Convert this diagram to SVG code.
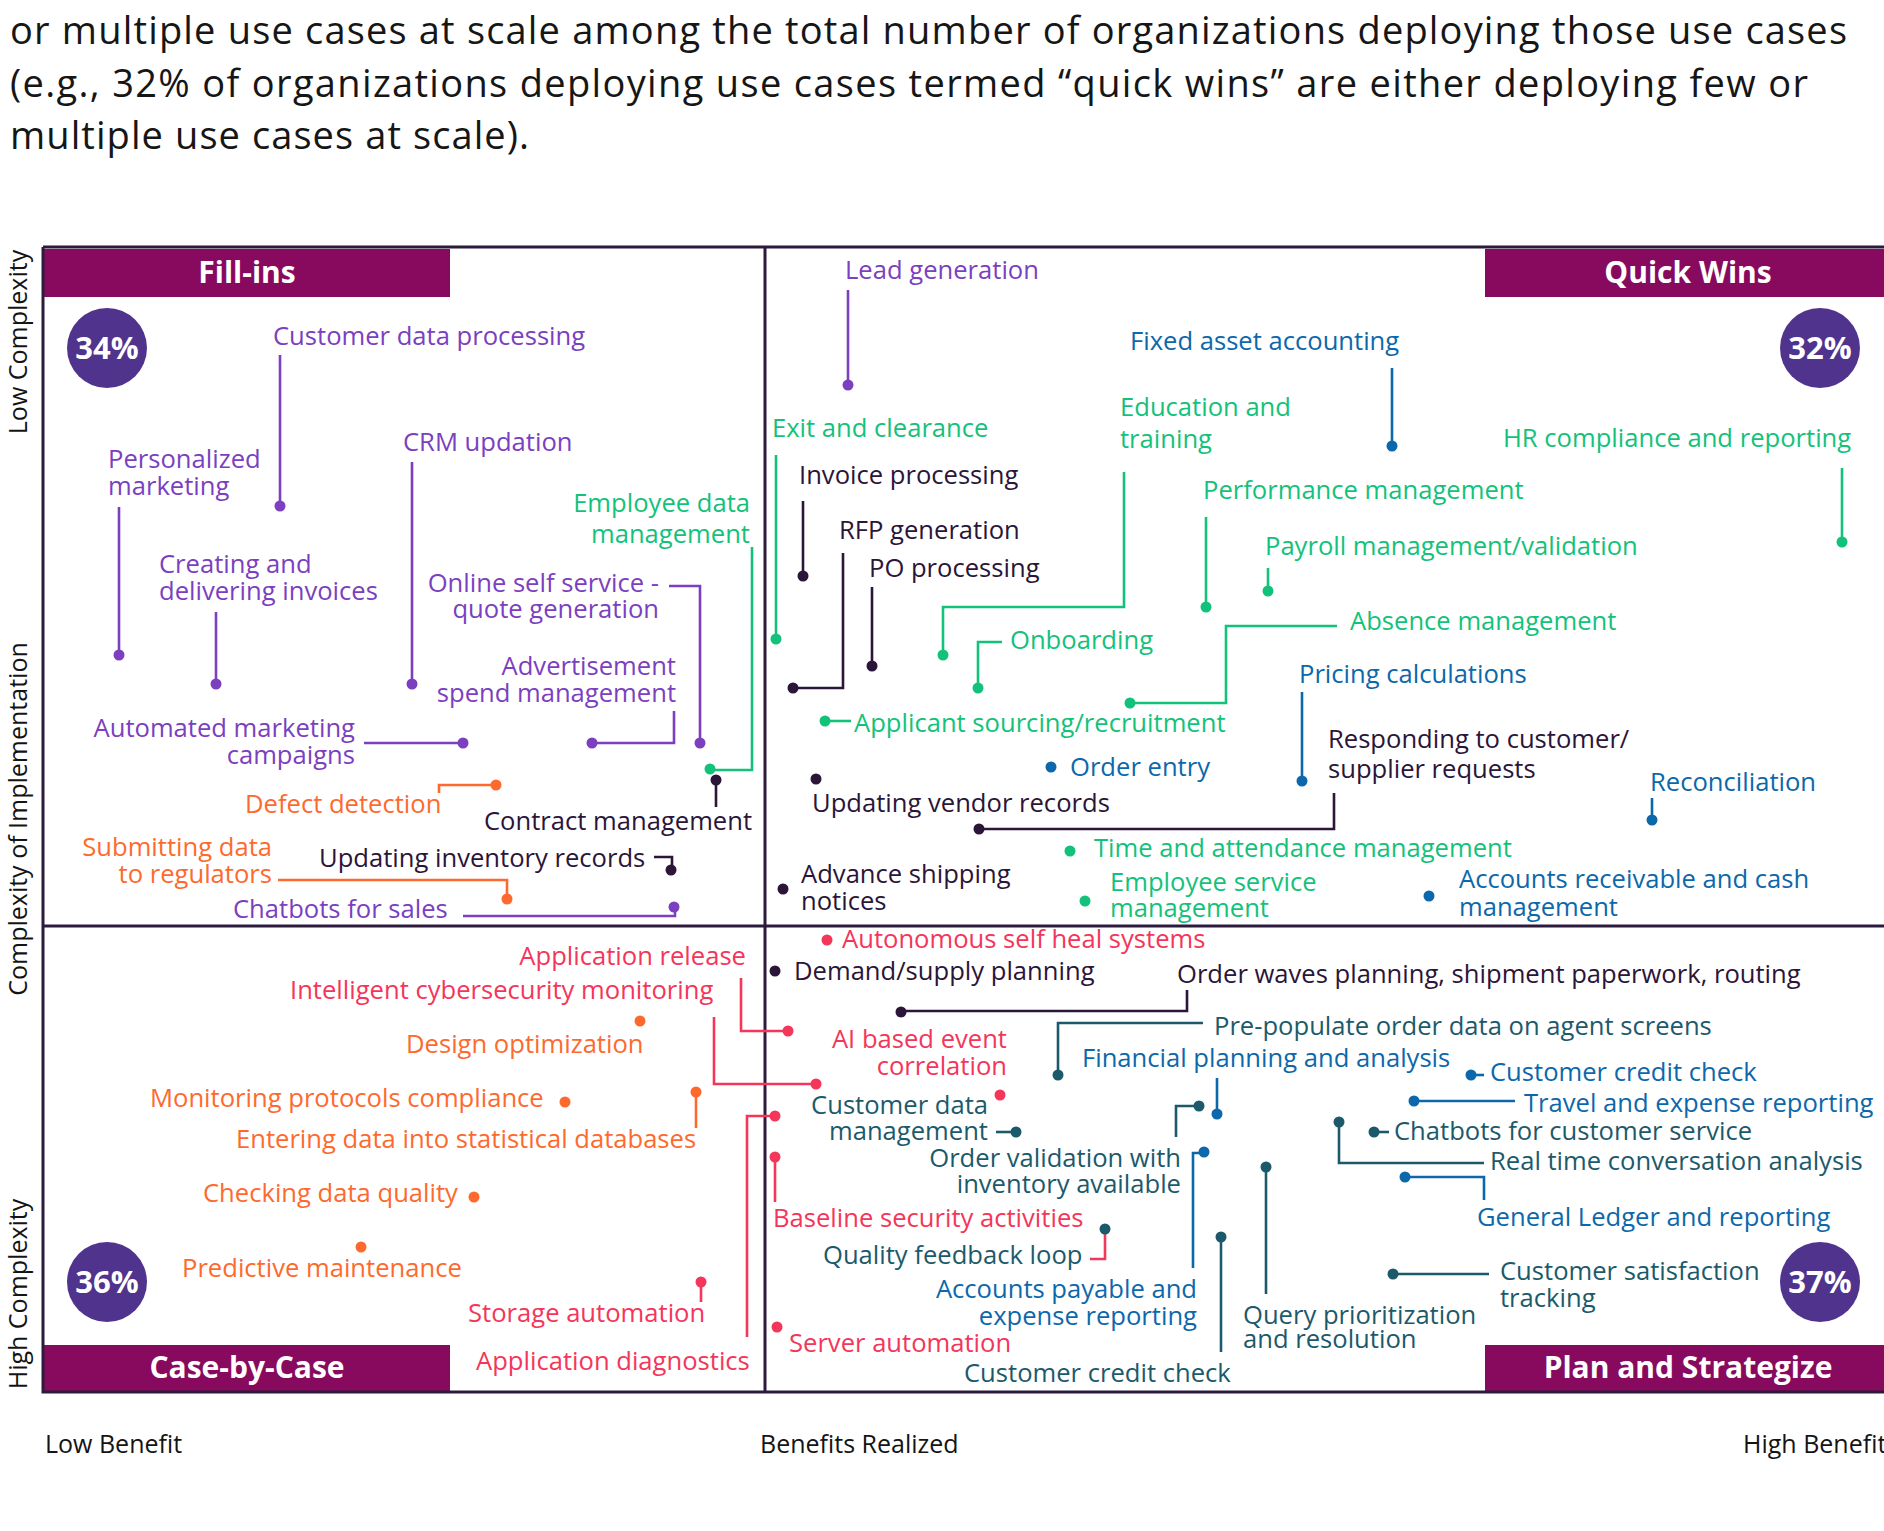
<svg xmlns="http://www.w3.org/2000/svg" width="1884" height="1531" viewBox="0 0 1884 1531">
<style>
text{font-family:"Open Sans","Noto Sans","Liberation Sans",sans-serif;font-size:25.6px}
.title{font-size:38px;fill:#161616}
.ax{fill:#141414;font-size:25px}
.ban{fill:#880a5f}
.bt{fill:#fff;font-weight:bold;font-size:30px;text-anchor:middle}
.pc{fill:#50338d}
.pt{fill:#fff;font-weight:bold;font-size:31px;text-anchor:middle}
.e{text-anchor:end}
.pu{fill:#7b3fc0}.gr{fill:#13c27a}.dk{fill:#2b1538}.bl{fill:#0c68ab}.or{fill:#fe6a2e}.rd{fill:#f4365a}.tl{fill:#1c5a6b}
#connectors path{fill:none;stroke-width:2.6}
.spu{stroke:#7b3fc0}.sgr{stroke:#13c27a}.sdk{stroke:#2b1538}.sbl{stroke:#0c68ab}.sor{stroke:#fe6a2e}.srd{stroke:#f4365a}.stl{stroke:#1c5a6b}
.frame{stroke:#2d1b3d;stroke-width:3;fill:none}
</style>

<g id="title">
<text class="title" x="10" y="44" textLength="1837" lengthAdjust="spacing">or multiple use cases at scale among the total number of organizations deploying those use cases</text>
<text class="title" x="10" y="97" textLength="1798" lengthAdjust="spacing">(e.g., 32% of organizations deploying use cases termed “quick wins” are either deploying few or</text>
<text class="title" x="10" y="149" textLength="519" lengthAdjust="spacing">multiple use cases at scale).</text>
</g>

<g id="frame">
<rect class="ban" x="44" y="249" width="406" height="48"/>
<rect class="ban" x="1485" y="249" width="399" height="48"/>
<rect class="ban" x="44" y="1345" width="406" height="47"/>
<rect class="ban" x="1485" y="1345" width="399" height="47"/>
<path class="frame" d="M43,247 H1884 M43,247 V1392 H1884 M43,926 H1884 M765,247 V1392"/>
<text class="bt" x="247" y="283">Fill-ins</text>
<text class="bt" x="1688" y="283">Quick Wins</text>
<text class="bt" x="247" y="1378">Case-by-Case</text>
<text class="bt" x="1688" y="1378">Plan and Strategize</text>
<circle class="pc" cx="107" cy="348" r="40"/><text class="pt" x="107" y="359">34%</text>
<circle class="pc" cx="1820" cy="348" r="40"/><text class="pt" x="1820" y="359">32%</text>
<circle class="pc" cx="107" cy="1282" r="40"/><text class="pt" x="107" y="1293">36%</text>
<circle class="pc" cx="1820" cy="1282" r="40"/><text class="pt" x="1820" y="1293">37%</text>
<text class="ax" text-anchor="middle" transform="translate(27,342) rotate(-90)">Low Complexity</text>
<text class="ax" text-anchor="middle" transform="translate(27,819) rotate(-90)">Complexity of Implementation</text>
<text class="ax" text-anchor="middle" transform="translate(27,1294) rotate(-90)">High Complexity</text>
<text class="ax" x="45" y="1453">Low Benefit</text>
<text class="ax" x="760" y="1453">Benefits Realized</text>
<text class="ax" x="1743" y="1453">High Benefit</text>
</g>

<g id="connectors">
<path class="spu" d="M280,355 V506"/>
<path class="spu" d="M119,507 V655"/>
<path class="spu" d="M412,462 V684"/>
<path class="spu" d="M216,612 V684"/>
<path class="spu" d="M669,586 H700 V743"/>
<path class="spu" d="M674,711 V743 H592"/>
<path class="spu" d="M364,743 H463"/>
<path class="spu" d="M463,916 H675 V907"/>
<path class="spu" d="M848,290 V385"/>
<path class="sgr" d="M752,547 V770 H710"/>
<path class="sgr" d="M776,455 V639"/>
<path class="sgr" d="M1124,472 V607 H943 V655"/>
<path class="sgr" d="M1206,517 V607"/>
<path class="sgr" d="M1268,568 V591"/>
<path class="sgr" d="M1337,626 H1226 V703 H1130"/>
<path class="sgr" d="M1002,642 H978 V688"/>
<path class="sgr" d="M1842,468 V542"/>
<path class="sgr" d="M825,721 H851"/>
<path class="sdk" d="M803,501 V576"/>
<path class="sdk" d="M843,553 V688 H793"/>
<path class="sdk" d="M872,587 V666"/>
<path class="sdk" d="M716,807 V780"/>
<path class="sdk" d="M654,857 H672 V870"/>
<path class="sdk" d="M1334,793 V829 H979"/>
<path class="sdk" d="M1187,990 V1011 H901"/>
<path class="sbl" d="M1392,368 V446"/>
<path class="sbl" d="M1302,692 V781"/>
<path class="sbl" d="M1652,798 V820"/>
<path class="sbl" d="M1217,1078 V1114"/>
<path class="sbl" d="M1471,1075 H1484"/>
<path class="sbl" d="M1414,1101 H1515"/>
<path class="sbl" d="M1405,1177 H1484 V1200"/>
<path class="sbl" d="M1193,1268 V1153 H1204"/>
<path class="sor" d="M439,793 V785 H496"/>
<path class="sor" d="M278,880 H507 V899"/>
<path class="sor" d="M696,1128 V1092"/>
<path class="srd" d="M741,978 V1031 H788"/>
<path class="srd" d="M714,1017 V1084 H816"/>
<path class="srd" d="M775,1202 V1157"/>
<path class="srd" d="M701,1302 V1282"/>
<path class="srd" d="M747,1337 V1116 H775"/>
<path class="srd" d="M1090,1259 H1105 V1230"/>
<path class="stl" d="M1203,1023 H1058 V1075"/>
<path class="stl" d="M996,1132 H1016"/>
<path class="stl" d="M1176,1137 V1106 H1199"/>
<path class="stl" d="M1221,1352 V1237"/>
<path class="stl" d="M1266,1294 V1167"/>
<path class="stl" d="M1374,1132 H1389"/>
<path class="stl" d="M1484,1163 H1339 V1122"/>
<path class="stl" d="M1393,1274 H1489"/>
</g>

<g id="n-customer-data-processing" class="pu"><text x="273" y="345">Customer data processing</text><circle cx="280" cy="506" r="5.5"/></g>
<g id="n-personalized-marketing" class="pu"><text x="108" y="468">Personalized</text><text x="108" y="495">marketing</text><circle cx="119" cy="655" r="5.5"/></g>
<g id="n-crm-updation" class="pu"><text x="403" y="451">CRM updation</text><circle cx="412" cy="684" r="5.5"/></g>
<g id="n-creating-invoices" class="pu"><text x="159" y="573">Creating and</text><text x="159" y="600">delivering invoices</text><circle cx="216" cy="684" r="5.5"/></g>
<g id="n-online-self-service" class="pu"><text class="e" x="659" y="592">Online self service -</text><text class="e" x="659" y="618">quote generation</text><circle cx="700" cy="743" r="5.5"/></g>
<g id="n-advertisement" class="pu"><text class="e" x="676" y="675">Advertisement</text><text class="e" x="676" y="702">spend management</text><circle cx="592" cy="743" r="5.5"/></g>
<g id="n-automated-marketing" class="pu"><text class="e" x="355" y="737">Automated marketing</text><text class="e" x="355" y="764">campaigns</text><circle cx="463" cy="743" r="5.5"/></g>
<g id="n-chatbots-sales" class="pu"><text x="233" y="918">Chatbots for sales</text><circle cx="674" cy="907" r="5.5"/></g>
<g id="n-lead-generation" class="pu"><text x="845" y="279">Lead generation</text><circle cx="848" cy="385" r="5.5"/></g>

<g id="n-employee-data" class="gr"><text class="e" x="750" y="512">Employee data</text><text class="e" x="750" y="543">management</text><circle cx="710" cy="769" r="5.5"/></g>
<g id="n-exit-clearance" class="gr"><text x="772" y="437">Exit and clearance</text><circle cx="776" cy="639" r="5.5"/></g>
<g id="n-education" class="gr"><text x="1120" y="416">Education and</text><text x="1120" y="448">training</text><circle cx="943" cy="655" r="5.5"/></g>
<g id="n-performance" class="gr"><text x="1203" y="499">Performance management</text><circle cx="1206" cy="607" r="5.5"/></g>
<g id="n-payroll" class="gr"><text x="1265" y="555">Payroll management/validation</text><circle cx="1268" cy="591" r="5.5"/></g>
<g id="n-absence" class="gr"><text x="1350" y="630">Absence management</text><circle cx="1130" cy="703" r="5.5"/></g>
<g id="n-onboarding" class="gr"><text x="1010" y="649">Onboarding</text><circle cx="978" cy="688" r="5.5"/></g>
<g id="n-hr-compliance" class="gr"><text x="1503" y="447">HR compliance and reporting</text><circle cx="1842" cy="542" r="5.5"/></g>
<g id="n-applicant" class="gr"><text x="854" y="732">Applicant sourcing/recruitment</text><circle cx="825" cy="721" r="5.5"/></g>
<g id="n-time-attendance" class="gr"><text x="1094" y="857">Time and attendance management</text><circle cx="1070" cy="851" r="5.5"/></g>
<g id="n-employee-service" class="gr"><text x="1110" y="891">Employee service</text><text x="1110" y="917">management</text><circle cx="1085" cy="901" r="5.5"/></g>

<g id="n-invoice-processing" class="dk"><text x="799" y="484">Invoice processing</text><circle cx="803" cy="576" r="5.5"/></g>
<g id="n-rfp" class="dk"><text x="839" y="539">RFP generation</text><circle cx="793" cy="688" r="5.5"/></g>
<g id="n-po" class="dk"><text x="869" y="577">PO processing</text><circle cx="872" cy="666" r="5.5"/></g>
<g id="n-contract" class="dk"><text x="484" y="830">Contract management</text><circle cx="716" cy="780" r="5.5"/></g>
<g id="n-updating-inventory" class="dk"><text x="319" y="867">Updating inventory records</text><circle cx="671" cy="870" r="5.5"/></g>
<g id="n-updating-vendor" class="dk"><text x="812" y="812">Updating vendor records</text><circle cx="816" cy="779" r="5.5"/></g>
<g id="n-responding" class="dk"><text x="1328" y="748">Responding to customer/</text><text x="1328" y="778">supplier requests</text><circle cx="979" cy="829" r="5.5"/></g>
<g id="n-advance-shipping" class="dk"><text x="801" y="883">Advance shipping</text><text x="801" y="910">notices</text><circle cx="783" cy="889" r="5.5"/></g>
<g id="n-demand-supply" class="dk"><text x="794" y="980">Demand/supply planning</text><circle cx="775" cy="971" r="5.5"/></g>
<g id="n-order-waves" class="dk"><text x="1177" y="983">Order waves planning, shipment paperwork, routing</text><circle cx="901" cy="1012" r="5.5"/></g>

<g id="n-fixed-asset" class="bl"><text x="1130" y="350">Fixed asset accounting</text><circle cx="1392" cy="446" r="5.5"/></g>
<g id="n-pricing" class="bl"><text x="1299" y="683">Pricing calculations</text><circle cx="1302" cy="781" r="5.5"/></g>
<g id="n-order-entry" class="bl"><text x="1070" y="776">Order entry</text><circle cx="1051" cy="767" r="5.5"/></g>
<g id="n-reconciliation" class="bl"><text x="1650" y="791">Reconciliation</text><circle cx="1652" cy="820" r="5.5"/></g>
<g id="n-accounts-receivable" class="bl"><text x="1459" y="888">Accounts receivable and cash</text><text x="1459" y="916">management</text><circle cx="1429" cy="896" r="5.5"/></g>
<g id="n-fpa" class="bl"><text x="1082" y="1067">Financial planning and analysis</text><circle cx="1217" cy="1114" r="5.5"/></g>
<g id="n-credit-check-right" class="bl"><text x="1490" y="1081">Customer credit check</text><circle cx="1471" cy="1075" r="5.5"/></g>
<g id="n-travel-expense" class="bl"><text x="1524" y="1112">Travel and expense reporting</text><circle cx="1414" cy="1101" r="5.5"/></g>
<g id="n-general-ledger" class="bl"><text x="1477" y="1226">General Ledger and reporting</text><circle cx="1405" cy="1177" r="5.5"/></g>
<g id="n-accounts-payable" class="bl"><text class="e" x="1197" y="1298">Accounts payable and</text><text class="e" x="1197" y="1325">expense reporting</text><circle cx="1204" cy="1152" r="5.5"/></g>

<g id="n-defect" class="or"><text x="245" y="813">Defect detection</text><circle cx="496" cy="785" r="5.5"/></g>
<g id="n-submitting" class="or"><text class="e" x="272" y="856">Submitting data</text><text class="e" x="272" y="883">to regulators</text><circle cx="507" cy="899" r="5.5"/></g>
<g id="n-design" class="or"><text x="406" y="1053">Design optimization</text><circle cx="640" cy="1021" r="5.5"/></g>
<g id="n-monitoring" class="or"><text x="150" y="1107">Monitoring protocols compliance</text><circle cx="565" cy="1102" r="5.5"/></g>
<g id="n-entering" class="or"><text x="236" y="1148">Entering data into statistical databases</text><circle cx="696" cy="1092" r="5.5"/></g>
<g id="n-checking" class="or"><text x="203" y="1202">Checking data quality</text><circle cx="474" cy="1197" r="5.5"/></g>
<g id="n-predictive" class="or"><text x="182" y="1277">Predictive maintenance</text><circle cx="361" cy="1247" r="5.5"/></g>

<g id="n-autonomous" class="rd"><text x="842" y="948">Autonomous self heal systems</text><circle cx="827" cy="940" r="5.5"/></g>
<g id="n-app-release" class="rd"><text class="e" x="746" y="965">Application release</text><circle cx="788" cy="1031" r="5.5"/></g>
<g id="n-cybersecurity" class="rd"><text x="290" y="999">Intelligent cybersecurity monitoring</text><circle cx="816" cy="1084" r="5.5"/></g>
<g id="n-ai-event" class="rd"><text class="e" x="1007" y="1048">AI based event</text><text class="e" x="1007" y="1075">correlation</text><circle cx="1000" cy="1095" r="5.5"/></g>
<g id="n-baseline-security" class="rd"><text x="773" y="1227">Baseline security activities</text><circle cx="775" cy="1157" r="5.5"/></g>
<g id="n-storage" class="rd"><text x="468" y="1322">Storage automation</text><circle cx="701" cy="1282" r="5.5"/></g>
<g id="n-server" class="rd"><text x="789" y="1352">Server automation</text><circle cx="777" cy="1327" r="5.5"/></g>
<g id="n-app-diagnostics" class="rd"><text x="476" y="1370">Application diagnostics</text><circle cx="775" cy="1116" r="5.5"/></g>

<g id="n-prepopulate" class="tl"><text x="1214" y="1035">Pre-populate order data on agent screens</text><circle cx="1058" cy="1075" r="5.5"/></g>
<g id="n-customer-data-mgmt" class="tl"><text class="e" x="988" y="1114">Customer data</text><text class="e" x="988" y="1140">management</text><circle cx="1016" cy="1132" r="5.5"/></g>
<g id="n-order-validation" class="tl"><text class="e" x="1181" y="1167">Order validation with</text><text class="e" x="1181" y="1193">inventory available</text><circle cx="1199" cy="1106" r="5.5"/></g>
<g id="n-quality-feedback" class="tl"><text x="823" y="1264">Quality feedback loop</text><circle cx="1105" cy="1229" r="5.5"/></g>
<g id="n-credit-check-bottom" class="tl"><text x="964" y="1382">Customer credit check</text><circle cx="1221" cy="1237" r="5.5"/></g>
<g id="n-query" class="tl"><text x="1243" y="1324">Query prioritization</text><text x="1243" y="1348">and resolution</text><circle cx="1266" cy="1167" r="5.5"/></g>
<g id="n-chatbots-cs" class="tl"><text x="1394" y="1140">Chatbots for customer service</text><circle cx="1374" cy="1132" r="5.5"/></g>
<g id="n-realtime" class="tl"><text x="1490" y="1170">Real time conversation analysis</text><circle cx="1339" cy="1122" r="5.5"/></g>
<g id="n-satisfaction" class="tl"><text x="1500" y="1280">Customer satisfaction</text><text x="1500" y="1307">tracking</text><circle cx="1393" cy="1274" r="5.5"/></g>
</svg>
